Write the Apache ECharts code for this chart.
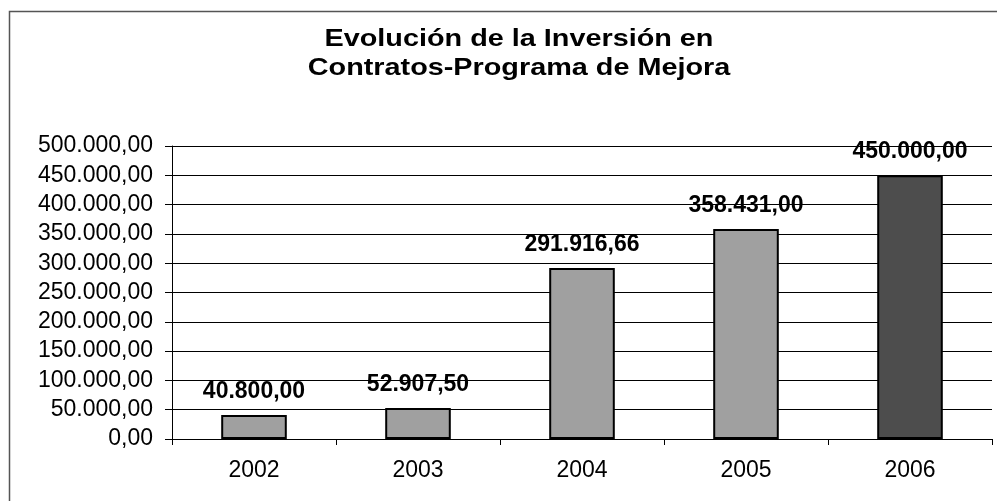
<!DOCTYPE html>
<html>
<head>
<meta charset="utf-8">
<script src="https://cdn.jsdelivr.net/npm/echarts@6/dist/echarts.min.js"></script>
<style>
  html, body { margin: 0; padding: 0; background: #fff; }
  #chart { width: 997px; height: 501px; }
</style>
</head>
<body>
<div id="chart"></div>
<script>
// datos del gráfico
const years = ['2002', '2003', '2004', '2005', '2006'];
const inversion = [40800.00, 52907.50, 291916.66, 358431.00, 450000.00];
const barColors = ['#a0a0a0', '#a0a0a0', '#a0a0a0', '#a0a0a0', '#4d4d4d'];
const yTicks = [0, 50000, 100000, 150000, 200000, 250000, 300000, 350000, 400000, 450000, 500000];
const titleLines = ['Evolución de la Inversión en', 'Contratos-Programa de Mejora'];

// formato español: 450.000,00
function fmt(v) {
  let parts = v.toFixed(2).split('.');
  let ent = parts[0].replace(/\B(?=(\d{3})+(?!\d))/g, '.');
  return ent + ',' + parts[1];
}

const chart = echarts.init(document.getElementById('chart'), null, { renderer: 'canvas' });

let option = {
  animation: false,
  backgroundColor: '#fff',
  graphic: [
    {
      type: 'polyline',
      shape: { points: [[9.5, 501], [9.5, 11.5], [997, 11.5]] },
      style: { stroke: '#555', lineWidth: 1.5, fill: null },
      silent: true,
    },
    // título, algo ensanchado como en el original
    {
      type: 'text',
      x: 519,
      y: 25,
      scaleX: 1.2,
      silent: true,
      style: {
        text: titleLines.join('\n'),
        align: 'center',
        verticalAlign: 'top',
        font: 'bold 24px "Liberation Sans", Arial',
        lineHeight: 29,
        fill: '#000',
      },
    },
  ],
  grid: {
    left: 172,
    right: 5,
    top: 146,
    bottom: 62,
    containLabel: false,
  },
  xAxis: {
    type: 'category',
    data: years,
    boundaryGap: true,
    axisLine: { show: true, lineStyle: { color: '#000', width: 1 } },
    axisTick: { show: true, alignWithLabel: false, length: 6, lineStyle: { color: '#000' } },
    axisLabel: {
      margin: 20,
      fontFamily: 'Liberation Sans, Arial',
      fontSize: 23,
      color: '#000',
    },
    splitLine: { show: false },
  },
  yAxis: {
    type: 'value',
    min: yTicks[0],
    max: yTicks[yTicks.length - 1],
    interval: 50000,
    axisLine: { show: true, lineStyle: { color: '#000', width: 1 } },
    axisTick: { show: true, inside: false, length: 7, lineStyle: { color: '#000' } },
    axisLabel: {
      margin: 19,
      fontFamily: 'Liberation Sans, Arial',
      fontSize: 23,
      color: '#000',
      formatter: v => fmt(v),
    },
    splitLine: { show: true, lineStyle: { color: '#000', width: 1 } },
  },
  series: [
    {
      type: 'bar',
      barWidth: '40%',
      data: inversion.map((v, i) => ({
        value: v,
        itemStyle: { color: barColors[i] },
      })),
      itemStyle: {
        borderColor: '#000',
        borderWidth: 2,
      },
      label: {
        show: true,
        position: 'top',
        distance: 12,
        fontFamily: 'Liberation Sans, Arial',
        fontSize: 23,
        fontWeight: 'bold',
        color: '#000',
        formatter: p => fmt(p.value),
      },
    },
  ],
};

chart.setOption(option);
</script>
</body>
</html>
